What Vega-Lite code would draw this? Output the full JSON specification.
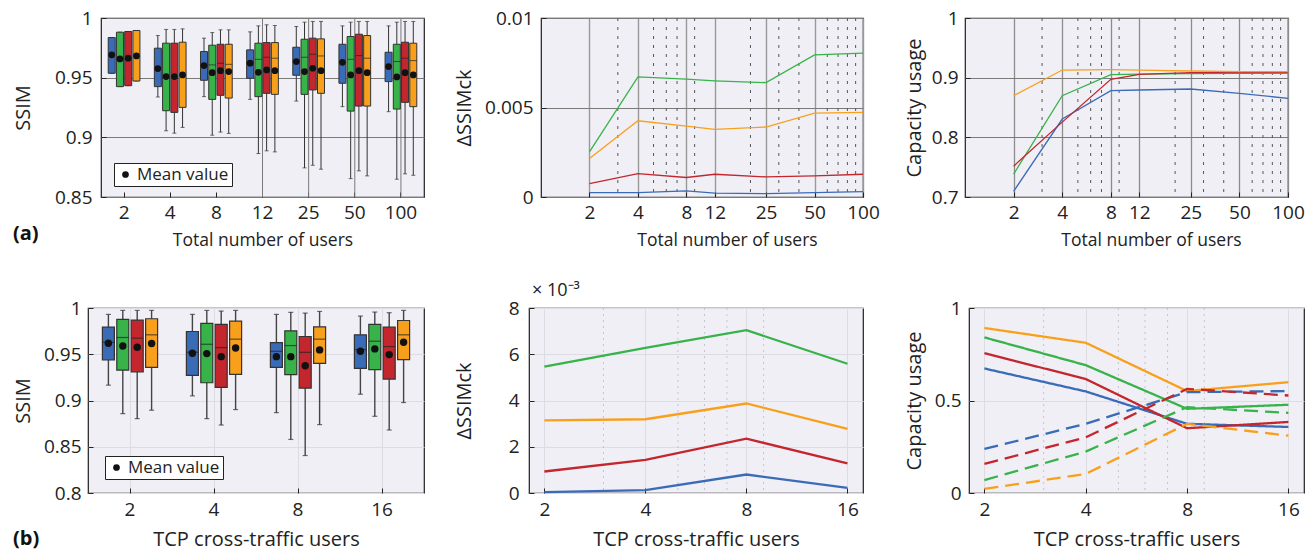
{
"$schema": "https://vega.github.io/schema/vega-lite/v6.json",
"padding": {"left": 12, "top": 8, "right": 0, "bottom": 0},
"background": "white",
"columns": 1,
"align": "none",
"spacing": 31,
"resolve": {"scale": {"shape": "independent", "xOffset": "independent"}, "legend": {"shape": "independent"}},
"datasets": {
"empty": [],
"a1grid": [{"users":12},{"users":25},{"users":50},{"users":100}],
"aminor": [{"users":3},{"users":5},{"users":6},{"users":7},{"users":9},{"users":20},{"users":30},{"users":40},{"users":60},{"users":70},{"users":80},{"users":90}],
"bminor": [{"users":3},{"users":5},{"users":6},{"users":7},{"users":9}],
"a1box": [
{"users":2,"s":"s1","min":0.9537,"q1":0.9537,"med":0.969,"q3":0.9836,"max":0.9836,"mean":0.9691},
{"users":2,"s":"s2","min":0.9425,"q1":0.9425,"med":0.9657,"q3":0.9881,"max":0.9881,"mean":0.9657},
{"users":2,"s":"s3","min":0.9433,"q1":0.9433,"med":0.9663,"q3":0.9887,"max":0.9887,"mean":0.9663},
{"users":2,"s":"s4","min":0.9472,"q1":0.9472,"med":0.9682,"q3":0.9895,"max":0.9895,"mean":0.9682},
{"users":4,"s":"s1","min":0.9338,"q1":0.9425,"med":0.9576,"q3":0.9747,"max":0.9853,"mean":0.9576},
{"users":4,"s":"s2","min":0.9055,"q1":0.9223,"med":0.9509,"q3":0.9789,"max":0.9904,"mean":0.9509},
{"users":4,"s":"s3","min":0.9035,"q1":0.9209,"med":0.9509,"q3":0.9789,"max":0.9904,"mean":0.9509},
{"users":4,"s":"s4","min":0.9083,"q1":0.9251,"med":0.9523,"q3":0.9797,"max":0.9909,"mean":0.9523},
{"users":8,"s":"s1","min":0.9341,"q1":0.9478,"med":0.9601,"q3":0.9719,"max":0.9831,"mean":0.9601},
{"users":8,"s":"s2","min":0.9018,"q1":0.9318,"med":0.9607,"q3":0.9772,"max":0.9878,"mean":0.9542},
{"users":8,"s":"s3","min":0.9044,"q1":0.9352,"med":0.9621,"q3":0.978,"max":0.9901,"mean":0.9559},
{"users":8,"s":"s4","min":0.9033,"q1":0.9329,"med":0.9612,"q3":0.978,"max":0.9901,"mean":0.9551},
{"users":12,"s":"s1","min":0.9318,"q1":0.9495,"med":0.9621,"q3":0.9733,"max":0.9884,"mean":0.9621},
{"users":12,"s":"s2","min":0.8864,"q1":0.9341,"med":0.9654,"q3":0.9789,"max":0.9934,"mean":0.9545},
{"users":12,"s":"s3","min":0.8887,"q1":0.9369,"med":0.9671,"q3":0.9794,"max":0.9943,"mean":0.9565},
{"users":12,"s":"s4","min":0.8878,"q1":0.936,"med":0.9663,"q3":0.9794,"max":0.9937,"mean":0.9559},
{"users":25,"s":"s1","min":0.9304,"q1":0.952,"med":0.9635,"q3":0.9755,"max":0.9929,"mean":0.9635},
{"users":25,"s":"s2","min":0.8744,"q1":0.936,"med":0.9671,"q3":0.9822,"max":0.9965,"mean":0.9551},
{"users":25,"s":"s3","min":0.8766,"q1":0.9397,"med":0.9696,"q3":0.9831,"max":0.9971,"mean":0.9579},
{"users":25,"s":"s4","min":0.8733,"q1":0.9369,"med":0.9682,"q3":0.9825,"max":0.9971,"mean":0.9559},
{"users":50,"s":"s1","min":0.9257,"q1":0.9453,"med":0.9629,"q3":0.978,"max":0.9934,"mean":0.9629},
{"users":50,"s":"s2","min":0.8654,"q1":0.922,"med":0.9654,"q3":0.9845,"max":0.9965,"mean":0.9523},
{"users":50,"s":"s3","min":0.8719,"q1":0.9262,"med":0.9685,"q3":0.9864,"max":0.9971,"mean":0.9559},
{"users":50,"s":"s4","min":0.8677,"q1":0.9262,"med":0.9663,"q3":0.9853,"max":0.9971,"mean":0.9542},
{"users":100,"s":"s1","min":0.9215,"q1":0.9467,"med":0.9593,"q3":0.9713,"max":0.9934,"mean":0.9593},
{"users":100,"s":"s2","min":0.8649,"q1":0.9237,"med":0.9635,"q3":0.978,"max":0.9965,"mean":0.9506},
{"users":100,"s":"s3","min":0.8694,"q1":0.9293,"med":0.9663,"q3":0.9797,"max":0.9971,"mean":0.9542},
{"users":100,"s":"s4","min":0.8682,"q1":0.9257,"med":0.9643,"q3":0.9789,"max":0.9971,"mean":0.9523}
],
"b1box": [
{"users":2,"s":"s1","min":0.9166,"q1":0.9438,"med":0.963,"q3":0.9793,"max":0.9931,"mean":0.9619},
{"users":2,"s":"s2","min":0.8858,"q1":0.9329,"med":0.9681,"q3":0.9876,"max":0.9974,"mean":0.959},
{"users":2,"s":"s3","min":0.8804,"q1":0.9308,"med":0.9674,"q3":0.9869,"max":0.9974,"mean":0.9576},
{"users":2,"s":"s4","min":0.8895,"q1":0.9358,"med":0.971,"q3":0.9884,"max":0.9974,"mean":0.9616},
{"users":4,"s":"s1","min":0.905,"q1":0.9271,"med":0.9522,"q3":0.9746,"max":0.9931,"mean":0.951},
{"users":4,"s":"s2","min":0.8804,"q1":0.9192,"med":0.9608,"q3":0.9833,"max":0.9974,"mean":0.9507},
{"users":4,"s":"s3","min":0.8735,"q1":0.9141,"med":0.9572,"q3":0.9822,"max":0.9967,"mean":0.9474},
{"users":4,"s":"s4","min":0.8902,"q1":0.9282,"med":0.9663,"q3":0.9858,"max":0.9974,"mean":0.9568},
{"users":8,"s":"s1","min":0.8869,"q1":0.9358,"med":0.9532,"q3":0.9626,"max":0.9931,"mean":0.9474},
{"users":8,"s":"s2","min":0.8579,"q1":0.9279,"med":0.9594,"q3":0.9753,"max":0.9953,"mean":0.9474},
{"users":8,"s":"s3","min":0.8405,"q1":0.9134,"med":0.9521,"q3":0.9692,"max":0.9945,"mean":0.9376},
{"users":8,"s":"s4","min":0.8739,"q1":0.9402,"med":0.9663,"q3":0.9797,"max":0.9963,"mean":0.9547},
{"users":16,"s":"s1","min":0.9068,"q1":0.9347,"med":0.955,"q3":0.971,"max":0.9913,"mean":0.9532},
{"users":16,"s":"s2","min":0.8829,"q1":0.9333,"med":0.9641,"q3":0.9822,"max":0.9956,"mean":0.9558},
{"users":16,"s":"s3","min":0.8681,"q1":0.9232,"med":0.9583,"q3":0.9793,"max":0.9949,"mean":0.9496},
{"users":16,"s":"s4","min":0.8978,"q1":0.9441,"med":0.971,"q3":0.9865,"max":0.9974,"mean":0.963}
],
"a2": [
{"users":2,"s":"s1","v":0.00025},{"users":4,"s":"s1","v":0.00025},{"users":8,"s":"s1","v":0.00034},{"users":12,"s":"s1","v":0.00022},{"users":25,"s":"s1","v":0.00019},{"users":50,"s":"s1","v":0.00025},{"users":100,"s":"s1","v":0.0003},
{"users":2,"s":"s2","v":0.00252},{"users":4,"s":"s2","v":0.00671},{"users":8,"s":"s2","v":0.00658},{"users":12,"s":"s2","v":0.00649},{"users":25,"s":"s2","v":0.00639},{"users":50,"s":"s2","v":0.00794},{"users":100,"s":"s2","v":0.00804},
{"users":2,"s":"s3","v":0.00075},{"users":4,"s":"s3","v":0.00131},{"users":8,"s":"s3","v":0.00109},{"users":12,"s":"s3","v":0.00127},{"users":25,"s":"s3","v":0.00112},{"users":50,"s":"s3","v":0.00118},{"users":100,"s":"s3","v":0.00127},
{"users":2,"s":"s4","v":0.00215},{"users":4,"s":"s4","v":0.00426},{"users":8,"s":"s4","v":0.00396},{"users":12,"s":"s4","v":0.00378},{"users":25,"s":"s4","v":0.00391},{"users":50,"s":"s4","v":0.00469},{"users":100,"s":"s4","v":0.00473}
],
"a3": [
{"users":2,"s":"s1","v":0.7096},{"users":4,"s":"s1","v":0.8307},{"users":8,"s":"s1","v":0.8782},{"users":12,"s":"s1","v":0.8793},{"users":25,"s":"s1","v":0.881},{"users":50,"s":"s1","v":0.8737},{"users":100,"s":"s1","v":0.8654},
{"users":2,"s":"s2","v":0.7382},{"users":4,"s":"s2","v":0.8698},{"users":8,"s":"s2","v":0.905},{"users":12,"s":"s2","v":0.9061},{"users":25,"s":"s2","v":0.9067},{"users":50,"s":"s2","v":0.9073},{"users":100,"s":"s2","v":0.9073},
{"users":2,"s":"s3","v":0.7517},{"users":4,"s":"s3","v":0.8255},{"users":8,"s":"s3","v":0.8972},{"users":12,"s":"s3","v":0.9056},{"users":25,"s":"s3","v":0.9084},{"users":50,"s":"s3","v":0.9084},{"users":100,"s":"s3","v":0.909},
{"users":2,"s":"s4","v":0.8698},{"users":4,"s":"s4","v":0.9128},{"users":8,"s":"s4","v":0.9134},{"users":12,"s":"s4","v":0.9128},{"users":25,"s":"s4","v":0.9112},{"users":50,"s":"s4","v":0.91},{"users":100,"s":"s4","v":0.91}
],
"b2": [
{"users":2,"s":"s1","v":0.04},{"users":4,"s":"s1","v":0.12},{"users":8,"s":"s1","v":0.8},{"users":16,"s":"s1","v":0.22},
{"users":2,"s":"s2","v":5.46},{"users":4,"s":"s2","v":6.28},{"users":8,"s":"s2","v":7.04},{"users":16,"s":"s2","v":5.59},
{"users":2,"s":"s3","v":0.93},{"users":4,"s":"s3","v":1.43},{"users":8,"s":"s3","v":2.35},{"users":16,"s":"s3","v":1.28},
{"users":2,"s":"s4","v":3.14},{"users":4,"s":"s4","v":3.19},{"users":8,"s":"s4","v":3.87},{"users":16,"s":"s4","v":2.77}
],
"b3": [
{"users":2,"s":"s1","flow":"video","v":0.673},{"users":4,"s":"s1","flow":"video","v":0.549},{"users":8,"s":"s1","flow":"video","v":0.374},{"users":16,"s":"s1","flow":"video","v":0.357},
{"users":2,"s":"s2","flow":"video","v":0.841},{"users":4,"s":"s2","flow":"video","v":0.691},{"users":8,"s":"s2","flow":"video","v":0.455},{"users":16,"s":"s2","flow":"video","v":0.477},
{"users":2,"s":"s3","flow":"video","v":0.756},{"users":4,"s":"s3","flow":"video","v":0.616},{"users":8,"s":"s3","flow":"video","v":0.35},{"users":16,"s":"s3","flow":"video","v":0.384},
{"users":2,"s":"s4","flow":"video","v":0.892},{"users":4,"s":"s4","flow":"video","v":0.812},{"users":8,"s":"s4","flow":"video","v":0.551},{"users":16,"s":"s4","flow":"video","v":0.599},
{"users":2,"s":"s1","flow":"tcp","v":0.238},{"users":4,"s":"s1","flow":"tcp","v":0.374},{"users":8,"s":"s1","flow":"tcp","v":0.545},{"users":16,"s":"s1","flow":"tcp","v":0.551},
{"users":2,"s":"s2","flow":"tcp","v":0.07},{"users":4,"s":"s2","flow":"tcp","v":0.224},{"users":8,"s":"s2","flow":"tcp","v":0.464},{"users":16,"s":"s2","flow":"tcp","v":0.433},
{"users":2,"s":"s3","flow":"tcp","v":0.157},{"users":4,"s":"s3","flow":"tcp","v":0.301},{"users":8,"s":"s3","flow":"tcp","v":0.563},{"users":16,"s":"s3","flow":"tcp","v":0.527},
{"users":2,"s":"s4","flow":"tcp","v":0.022},{"users":4,"s":"s4","flow":"tcp","v":0.103},{"users":8,"s":"s4","flow":"tcp","v":0.374},{"users":16,"s":"s4","flow":"tcp","v":0.31}
]
},
"concat": [
{
"hconcat": [
{"width": 16, "height": 179, "data": {"name": "empty"}, "mark": "point", "encoding": {}, "view": {"fill": "transparent", "stroke": "transparent"}},
{
"width": 323, "height": 179,
"title": {"text": "(a)", "orient": "bottom", "anchor": "start", "frame": "group", "offset": 0, "dy": -15, "baseline": "middle", "dx": -88, "fontSize": 20, "fontWeight": "bold", "color": "#111"},
"data": {"name": "a1box"},
"encoding": {
"x": {"field": "users", "type": "ordinal", "title": "Total number of users",
"scale": {"type": "band", "domain": [2,4,8,12,25,50,100], "paddingInner": 0, "paddingOuter": 0},
"axis": {"labelAngle": 0, "grid": false, "tickSize": -5, "labelPadding": 11, "titleY": 43, "titleBaseline": "middle", "titleFontSize": 17.5}}
},
"layer": [
{"data": {"name": "a1grid"}, "mark": {"type": "rule", "color": "#7a7a7a", "strokeWidth": 1}, "encoding": {}},
{"mark": {"type": "rule", "color": "#333333", "strokeWidth": 1},
"encoding": {"xOffset": {"field": "s", "type": "nominal", "scale": {"paddingInner": 0.15, "paddingOuter": 0.875}},
"y": {"field": "min", "type": "quantitative", "title": "SSIM", "scale": {"domain": [0.85, 1], "nice": false, "zero": false},
"axis": {"values": [0.85, 0.9, 0.95, 1], "format": "~g", "grid": true, "gridColor": "#7a7a7a", "tickSize": -5, "labelPadding": 14, "titleX": -78, "titleBaseline": "middle"}},
"y2": {"field": "max"}}},
{"mark": {"type": "tick", "color": "#333333", "thickness": 1, "size": 4},
"encoding": {"xOffset": {"field": "s", "type": "nominal"}, "y": {"field": "min", "type": "quantitative", "title": "SSIM", "scale": {"domain": [0.85, 1], "nice": false, "zero": false}}}},
{"mark": {"type": "tick", "color": "#333333", "thickness": 1, "size": 4},
"encoding": {"xOffset": {"field": "s", "type": "nominal"}, "y": {"field": "max", "type": "quantitative", "title": "SSIM", "scale": {"domain": [0.85, 1], "nice": false, "zero": false}}}},
{"mark": {"type": "bar", "stroke": "#333333", "strokeWidth": 1},
"encoding": {"xOffset": {"field": "s", "type": "nominal"}, "y": {"field": "q1", "type": "quantitative", "title": "SSIM", "scale": {"domain": [0.85, 1], "nice": false, "zero": false}}, "y2": {"field": "q3"},
"color": {"field": "s", "type": "nominal", "scale": {"domain": ["s1","s2","s3","s4"], "range": ["#3a6bb7","#37b34a","#c3262d","#f8a01c"]}, "legend": null}}},
{"mark": {"type": "tick", "color": "#222222", "thickness": 1, "size": 7},
"encoding": {"xOffset": {"field": "s", "type": "nominal"}, "y": {"field": "med", "type": "quantitative", "title": "SSIM", "scale": {"domain": [0.85, 1], "nice": false, "zero": false}}}},
{"mark": {"type": "point", "filled": true, "color": "#111111", "size": 45, "opacity": 1},
"encoding": {"xOffset": {"field": "s", "type": "nominal"}, "y": {"field": "mean", "type": "quantitative", "title": "SSIM", "scale": {"domain": [0.85, 1], "nice": false, "zero": false}},
"shape": {"datum": "Mean value", "type": "nominal", "scale": {"range": ["circle"]},
"legend": {"orient": "none", "legendX": 13, "legendY": 145, "title": null, "fillColor": "white", "strokeColor": "#222222", "padding": 3, "labelFontSize": 17, "labelColor": "#222222", "symbolFillColor": "#111111", "symbolStrokeColor": "#111111", "symbolSize": 45, "cornerRadius": 0, "labelOffset": 3}}}}
]
},
{"width": 17, "height": 179, "data": {"name": "empty"}, "mark": "point", "encoding": {}, "view": {"fill": "transparent", "stroke": "transparent"}},
{
"width": 322, "height": 179,
"encoding": {
"x": {"field": "users", "type": "quantitative", "title": "Total number of users",
"scale": {"type": "log", "domain": [1, 100], "nice": false},
"axis": {"values": [2,4,8,12,25,50,100], "format": "d", "labelFlush": false, "labelOverlap": false, "grid": true, "gridColor": "#999999", "gridWidth": 1.4, "tickSize": -5, "labelPadding": 11, "titleY": 43, "titleX": 186, "titleBaseline": "middle", "titleFontSize": 17.5}}
},
"layer": [
{"data": {"name": "aminor"}, "mark": {"type": "rule", "color": "#555555", "strokeWidth": 1, "strokeDash": [3, 6]}, "encoding": {}},
{"data": {"name": "a2"}, "mark": {"type": "line", "strokeWidth": 1.3},
"encoding": {"y": {"field": "v", "type": "quantitative", "title": "ΔSSIMck", "scale": {"domain": [0, 0.01], "nice": false},
"axis": {"values": [0, 0.005, 0.01], "format": "~g", "grid": true, "gridColor": "#7a7a7a", "tickSize": -5, "labelPadding": 13, "titleX": -77, "titleBaseline": "middle"}},
"color": {"field": "s", "type": "nominal", "scale": {"domain": ["s1","s2","s3","s4"], "range": ["#3a6bb7","#37b34a","#c3262d","#f8a01c"]}, "legend": null}}}
]
},
{"width": 2, "height": 179, "data": {"name": "empty"}, "mark": "point", "encoding": {}, "view": {"fill": "transparent", "stroke": "transparent"}},
{
"width": 323, "height": 179,
"encoding": {
"x": {"field": "users", "type": "quantitative", "title": "Total number of users",
"scale": {"type": "log", "domain": [1, 100], "nice": false},
"axis": {"values": [2,4,8,12,25,50,100], "format": "d", "labelFlush": false, "labelOverlap": false, "grid": true, "gridColor": "#8c8c8c", "gridWidth": 1.3, "tickSize": -5, "labelPadding": 11, "titleY": 43, "titleX": 186, "titleBaseline": "middle", "titleFontSize": 17.5}}
},
"layer": [
{"data": {"name": "aminor"}, "mark": {"type": "rule", "color": "#555555", "strokeWidth": 1, "strokeDash": [3, 6]}, "encoding": {}},
{"data": {"name": "a3"}, "mark": {"type": "line", "strokeWidth": 1.3},
"encoding": {"y": {"field": "v", "type": "quantitative", "title": "Capacity usage", "scale": {"domain": [0.7, 1], "nice": false, "zero": false},
"axis": {"values": [0.7, 0.8, 0.9, 1], "format": "~g", "grid": true, "gridColor": "#7a7a7a", "tickSize": -5, "labelPadding": 12, "titleX": -51, "titleBaseline": "middle"}},
"color": {"field": "s", "type": "nominal", "scale": {"domain": ["s1","s2","s3","s4"], "range": ["#3a6bb7","#37b34a","#c3262d","#f8a01c"]}, "legend": null}}}
]
}
],
"spacing": 50, "bounds": "flush",
"resolve": {"scale": {"shape": "independent", "xOffset": "independent"}, "legend": {"shape": "independent"}}
},
{
"hconcat": [
{"width": 1, "height": 185, "data": {"name": "empty"}, "mark": "point", "encoding": {}, "view": {"fill": "transparent", "stroke": "transparent"}},
{
"width": 336, "height": 185,
"title": {"text": "(b)", "orient": "bottom", "anchor": "start", "frame": "group", "offset": 0, "dy": -10, "baseline": "middle", "dx": -75, "fontSize": 20, "fontWeight": "bold", "color": "#111"},
"data": {"name": "b1box"},
"encoding": {
"x": {"field": "users", "type": "ordinal", "title": "TCP cross-traffic users",
"scale": {"type": "band", "domain": [2,4,8,16], "paddingInner": 0, "paddingOuter": 0},
"axis": {"labelAngle": 0, "grid": true, "gridColor": "#dcdce2", "tickSize": -5, "labelPadding": 12, "titleY": 46, "titleBaseline": "middle"}}
},
"layer": [
{"mark": {"type": "rule", "color": "#444444", "strokeWidth": 1.4},
"encoding": {"xOffset": {"field": "s", "type": "nominal", "scale": {"paddingInner": 0.167, "paddingOuter": 1.0}},
"y": {"field": "min", "type": "quantitative", "title": "SSIM", "scale": {"domain": [0.8, 1], "nice": false, "zero": false},
"axis": {"values": [0.8, 0.85, 0.9, 0.95, 1], "format": "~g", "grid": true, "gridColor": "#dcdce2", "tickSize": -5, "labelPadding": 12, "titleX": -65, "titleBaseline": "middle"}},
"y2": {"field": "max"}}},
{"mark": {"type": "tick", "color": "#333333", "thickness": 1.2, "size": 5},
"encoding": {"xOffset": {"field": "s", "type": "nominal"}, "y": {"field": "min", "type": "quantitative", "title": "SSIM", "scale": {"domain": [0.8, 1], "nice": false, "zero": false}}}},
{"mark": {"type": "tick", "color": "#333333", "thickness": 1.2, "size": 5},
"encoding": {"xOffset": {"field": "s", "type": "nominal"}, "y": {"field": "max", "type": "quantitative", "title": "SSIM", "scale": {"domain": [0.8, 1], "nice": false, "zero": false}}}},
{"mark": {"type": "bar", "stroke": "#333333", "strokeWidth": 1.2},
"encoding": {"xOffset": {"field": "s", "type": "nominal"}, "y": {"field": "q1", "type": "quantitative", "title": "SSIM", "scale": {"domain": [0.8, 1], "nice": false, "zero": false}}, "y2": {"field": "q3"},
"color": {"field": "s", "type": "nominal", "scale": {"domain": ["s1","s2","s3","s4"], "range": ["#3a6bb7","#37b34a","#c3262d","#f8a01c"]}, "legend": null}}},
{"mark": {"type": "tick", "color": "#222222", "thickness": 1.2, "size": 12},
"encoding": {"xOffset": {"field": "s", "type": "nominal"}, "y": {"field": "med", "type": "quantitative", "title": "SSIM", "scale": {"domain": [0.8, 1], "nice": false, "zero": false}}}},
{"mark": {"type": "point", "filled": true, "color": "#111111", "size": 55, "opacity": 1},
"encoding": {"xOffset": {"field": "s", "type": "nominal"}, "y": {"field": "mean", "type": "quantitative", "title": "SSIM", "scale": {"domain": [0.8, 1], "nice": false, "zero": false}},
"shape": {"datum": "Mean value", "type": "nominal", "scale": {"range": ["circle"]},
"legend": {"orient": "none", "legendX": 17, "legendY": 148, "title": null, "fillColor": "white", "strokeColor": "#222222", "padding": 3, "labelFontSize": 17, "labelColor": "#222222", "symbolFillColor": "#111111", "symbolStrokeColor": "#111111", "symbolSize": 45, "cornerRadius": 0, "labelOffset": 3}}}}
]
},
{"width": 1, "height": 185, "data": {"name": "empty"}, "mark": "point", "encoding": {}, "view": {"fill": "transparent", "stroke": "transparent"}},
{
"width": 334, "height": 185,
"title": {"text": "× 10⁻³", "orient": "top", "anchor": "start", "frame": "group", "offset": 17, "dy": 27, "baseline": "middle", "dx": 3, "fontSize": 18, "fontWeight": "normal", "color": "#222"},
"encoding": {
"x": {"field": "users", "type": "quantitative", "title": "TCP cross-traffic users",
"scale": {"type": "log", "domain": [1.8, 17.8], "nice": false},
"axis": {"values": [2,4,8,16], "format": "d", "labelFlush": false, "labelOverlap": false, "grid": true, "gridColor": "#dcdce2", "tickSize": -5, "labelPadding": 12, "titleY": 46, "titleBaseline": "middle"}}
},
"layer": [
{"data": {"name": "bminor"}, "mark": {"type": "rule", "color": "#c4c4cc", "strokeWidth": 1, "strokeDash": [2, 4]}, "encoding": {}},
{"data": {"name": "b2"}, "mark": {"type": "line", "strokeWidth": 2.3},
"encoding": {"y": {"field": "v", "type": "quantitative", "title": "ΔSSIMck", "scale": {"domain": [0, 8], "nice": false},
"axis": {"values": [0, 2, 4, 6, 8], "format": "d", "grid": true, "gridColor": "#dcdce2", "tickSize": -5, "labelPadding": 15, "titleX": -65, "titleBaseline": "middle"}},
"color": {"field": "s", "type": "nominal", "scale": {"domain": ["s1","s2","s3","s4"], "range": ["#3a6bb7","#37b34a","#c3262d","#f8a01c"]}, "legend": null}}}
]
},
{"width": 2, "height": 185, "data": {"name": "empty"}, "mark": "point", "encoding": {}, "view": {"fill": "transparent", "stroke": "transparent"}},
{
"width": 335, "height": 185,
"encoding": {
"x": {"field": "users", "type": "quantitative", "title": "TCP cross-traffic users",
"scale": {"type": "log", "domain": [1.8, 17.8], "nice": false},
"axis": {"values": [2,4,8,16], "format": "d", "labelFlush": false, "labelOverlap": false, "grid": true, "gridColor": "#dcdce2", "tickSize": -5, "labelPadding": 12, "titleY": 46, "titleBaseline": "middle"}}
},
"layer": [
{"data": {"name": "bminor"}, "mark": {"type": "rule", "color": "#c4c4cc", "strokeWidth": 1, "strokeDash": [2, 4]}, "encoding": {}},
{"data": {"name": "b3"}, "mark": {"type": "line", "strokeWidth": 2.3},
"encoding": {"y": {"field": "v", "type": "quantitative", "title": "Capacity usage", "scale": {"domain": [0, 1], "nice": false},
"axis": {"values": [0, 0.5, 1], "format": "~g", "grid": true, "gridColor": "#dcdce2", "tickSize": -5, "labelPadding": 13, "titleX": -55, "titleBaseline": "middle"}},
"color": {"field": "s", "type": "nominal", "scale": {"domain": ["s1","s2","s3","s4"], "range": ["#3a6bb7","#37b34a","#c3262d","#f8a01c"]}, "legend": null},
"strokeDash": {"field": "flow", "type": "nominal", "scale": {"domain": ["video", "tcp"], "range": [[1, 0], [14, 7]]}, "legend": null}}}
]
}
],
"spacing": 52, "bounds": "flush",
"resolve": {"scale": {"shape": "independent", "xOffset": "independent"}, "legend": {"shape": "independent"}}
}
],
"config": {
"font": "Open Sans",
"view": {"fill": "#f0eff6", "stroke": "#1e1e1e", "strokeWidth": 1.2},
"axis": {"labelFont": "Open Sans", "titleFont": "Open Sans", "labelFontSize": 19, "titleFontSize": 20, "labelColor": "#222222", "titleColor": "#222222", "titleFontWeight": "normal", "tickColor": "#222222", "domain": false},
"legend": {"labelFont": "Open Sans"},
"title": {"font": "Open Sans"}
}
}
